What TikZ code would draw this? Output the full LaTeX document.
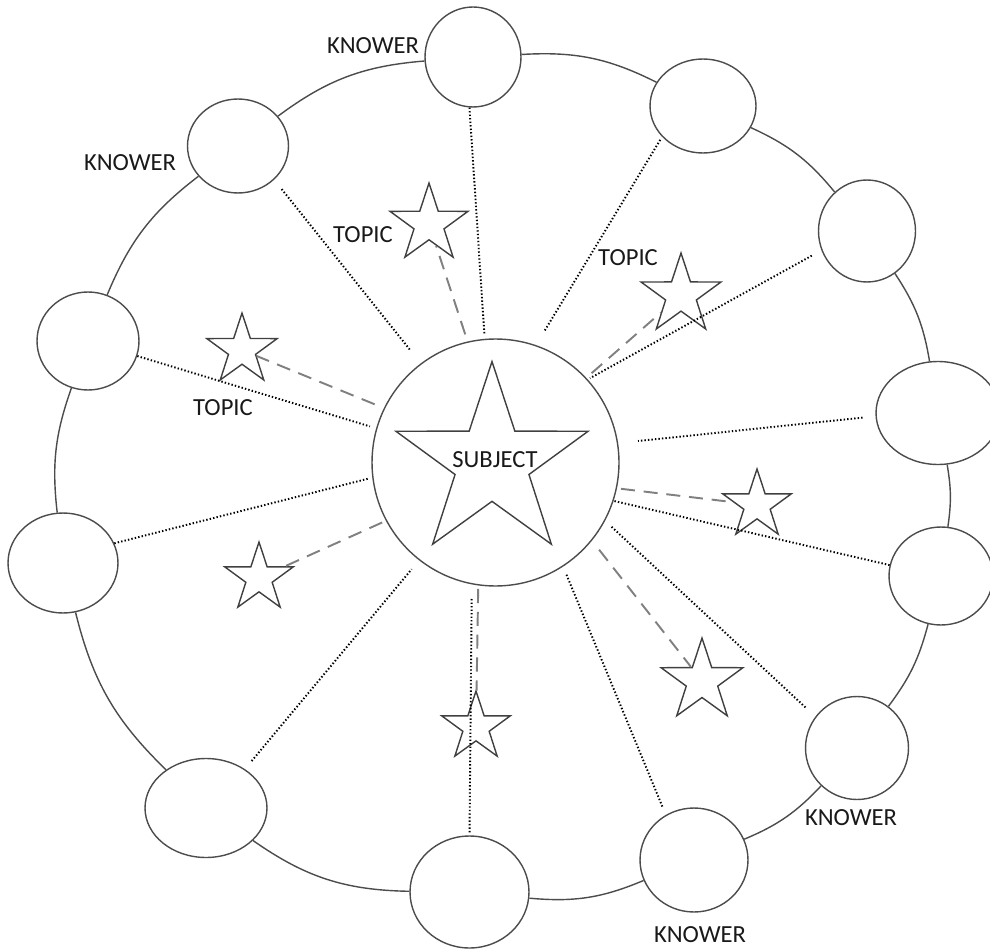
\documentclass[tikz,border=0pt]{standalone}
\usepackage{fontspec}
\setmainfont{Carlito}
\usepackage{tikz}
\usetikzlibrary{shapes.geometric}

\begin{document}
\begin{tikzpicture}[x=0.02cm,y=-0.02cm,
    knower/.style={ellipse,draw=black!70,line width=0.8pt,inner sep=0pt},
    topic/.style={star,star points=5,star point ratio=2.6,draw=black!75,line width=0.8pt,inner sep=0pt},
    ring/.style={draw=black!70,line width=0.8pt},
    tie/.style={line width=1.1pt,dash pattern=on 0.8pt off 1.2pt},
    pull/.style={draw=black!50,line width=1.1pt,dash pattern=on 8pt off 5pt},
    tag/.style={font=\fontsize{14}{16}\selectfont,text=black!90,inner sep=0pt}]
    \useasboundingbox (0,0) rectangle (990,949);

    \node[circle,draw=black!70,line width=0.8pt,minimum size=4.94cm,inner sep=0pt] (hub) at (495.5,462.5) {};
    \node[topic,minimum size=4.04cm] (core) at (492,462.5) {};
    \node[tag] (subject) at (495,460) {SUBJECT};

    \node[knower,minimum width=1.92cm,minimum height=2.00cm] (k1) at (473,57) {};
    \node[knower,minimum width=2.12cm,minimum height=1.88cm] (k2) at (703,106) {};
    \node[knower,minimum width=1.94cm,minimum height=2.04cm] (k3) at (867,231) {};
    \node[knower,minimum width=2.48cm,minimum height=2.06cm] (k4) at (938,413) {};
    \node[knower,minimum width=2.08cm,minimum height=1.96cm] (k5) at (941,576) {};
    \node[knower,minimum width=2.06cm,minimum height=2.06cm] (k6) at (857,748) {};
    \node[knower,minimum width=2.16cm,minimum height=2.08cm] (k7) at (694,860) {};
    \node[knower,minimum width=2.38cm,minimum height=2.24cm] (k8) at (469.5,892) {};
    \node[knower,minimum width=2.44cm,minimum height=1.98cm] (k9) at (206,808) {};
    \node[knower,minimum width=2.20cm,minimum height=2.00cm] (k10) at (63,563) {};
    \node[knower,minimum width=2.04cm,minimum height=1.96cm] (k11) at (88,341) {};
    \node[knower,minimum width=2.02cm,minimum height=1.88cm] (k12) at (238,146) {};

    \node[topic,minimum size=1.64cm] (s1) at (429,224) {};
    \node[topic,minimum size=1.68cm] (s2) at (681,295) {};
    \node[topic,minimum size=1.48cm] (s3) at (242,350) {};
    \node[topic,minimum size=1.44cm] (s4) at (757,505) {};
    \node[topic,minimum size=1.44cm] (s5) at (259,578) {};
    \node[topic,minimum size=1.72cm] (s6) at (702,681) {};
    \node[topic,minimum size=1.44cm] (s7) at (476,727) {};

    \node[tag] (kw1) at (373,46) {KNOWER};
    \node[tag] (kw12) at (130,163) {KNOWER};
    \node[tag] (kw6) at (851,818) {KNOWER};
    \node[tag] (kw7) at (700,935) {KNOWER};
    \node[tag] (tp1) at (363,235) {TOPIC};
    \node[tag] (tp2) at (628,258) {TOPIC};
    \node[tag] (tp3) at (223,408) {TOPIC};

    \draw[ring] (k1) to[bend left=15] (k2);
    \draw[ring] (k2) to[bend left=13] (k3);
    \draw[ring] (k3) to[bend left=12] (k4);
    \draw[ring] (k4) to[bend left=9] (k5);
    \draw[ring] (k5) to[bend left=11] (k6);
    \draw[ring] (k6) to[bend left=12] (k7);
    \draw[ring] (k7) to[bend left=14] (k8);
    \draw[ring] (k8) to[bend left=17] (k9);
    \draw[ring] (k9) to[bend left=16] (k10);
    \draw[ring] (k10) to[bend left=13] (k11);
    \draw[ring] (k11) to[bend left=15] (k12);
    \draw[ring] (k12) to[bend left=16] (k1);

    \draw[tie,shorten <=0.24cm,shorten >=0.32cm] (k12.-43.7) -- (hub.127.7);
    \draw[tie,shorten >=0.09cm] (k1.-94.8) -- (hub.95.6);
    \draw[tie,shorten <=0.07cm,shorten >=0.32cm] (k2.217.5) -- (hub.71.4);
    \draw[tie,shorten <=0.22cm,shorten >=0.05cm] (k3.203.6) -- (hub.42.1);
    \draw[tie,shorten <=0.26cm,shorten >=0.40cm] (k4.183.8) -- (hub.9);
    \draw[tie] (k5.168) -- (hub.-18.1);
    \draw[tie,shorten <=0.27cm,shorten >=0.17cm] (k6.143.1) -- (hub.-28.2);
    \draw[tie,shorten <=0.18cm,shorten >=0.14cm] (k7.122.4) -- (hub.-57.8);
    \draw[tie,shorten <=0.06cm,shorten >=0.29cm] (k8.90.5) -- (hub.-101.1);
    \draw[tie,shorten <=0.21cm,shorten >=0.23cm] (k9.45) -- (hub.-128.7);
    \draw[tie,shorten >=0.08cm] (k10.21.8) -- (hub.-173.5);
    \draw[tie,shorten >=0.13cm] (k11.-17.7) -- (hub.164.6);

    \draw[pull,shorten <=0.15cm] (hub.103.5) -- (s1);
    \draw[pull,shorten <=0.14cm] (hub.43.8) -- (s2);
    \draw[pull,shorten <=0.20cm] (hub.154.9) -- (s3);
    \draw[pull,shorten <=0.08cm] (hub.-12.9) -- (s4);
    \draw[pull,shorten <=0.08cm] (hub.208.3) -- (s5);
    \draw[pull,shorten <=0.23cm] (hub.-39.3) -- (s6);
    \draw[pull,shorten <=0.07cm] (hub.-98.8) -- (s7);
\end{tikzpicture}
\end{document}
